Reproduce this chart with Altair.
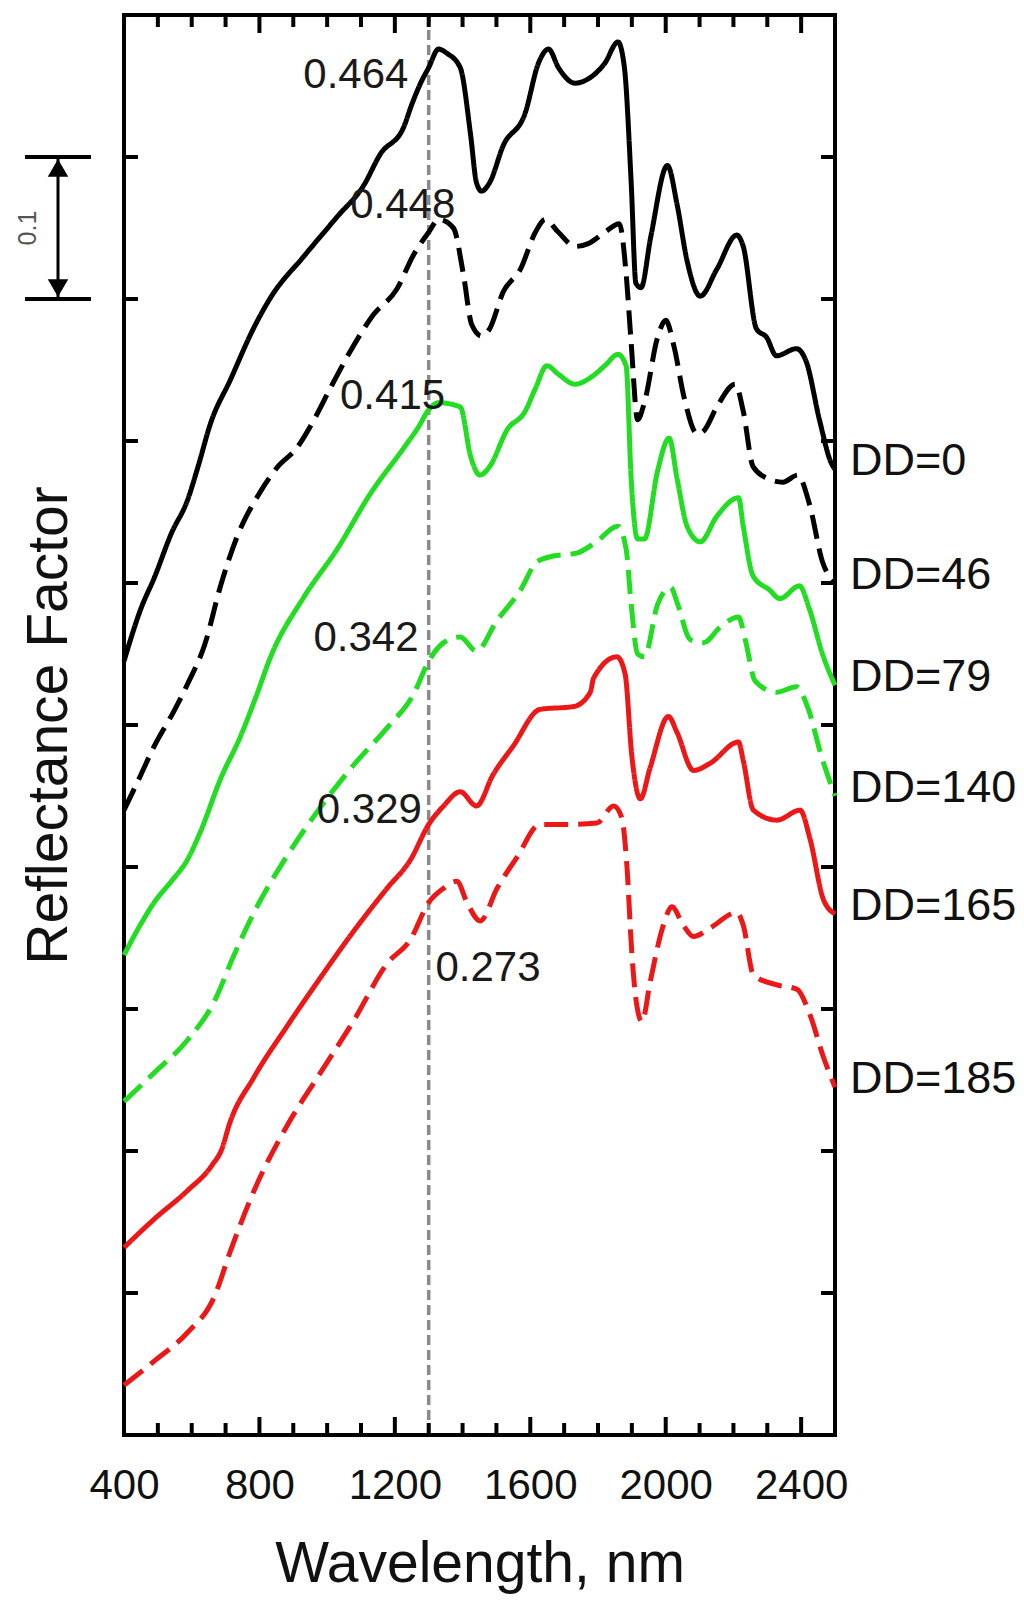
import altair as alt
import pandas as pd

# ---------------- data (stacked display units) ----------------
wl_dd0 = [400, 450, 490, 540, 587, 620, 655, 714, 784, 833, 931, 1030, 1108, 1157, 1226, 1250, 1276,
          1300, 1329, 1354, 1393, 1424, 1441, 1456, 1480, 1520, 1585, 1624, 1654, 1683, 1732, 1771,
          1820, 1859, 1878, 1898, 1912, 1927, 1956, 2005, 2034, 2063, 2102, 2151, 2210, 2229, 2268,
          2298, 2327, 2386, 2415, 2454, 2488, 2500]
r_dd0 = [0.545, 0.582, 0.604, 0.635, 0.658, 0.683, 0.712, 0.743, 0.780, 0.801, 0.830, 0.858, 0.880,
         0.902, 0.921, 0.937, 0.952, 0.963, 0.976, 0.973, 0.963, 0.915, 0.882, 0.876, 0.882, 0.908,
         0.931, 0.966, 0.976, 0.963, 0.952, 0.955, 0.966, 0.981, 0.963, 0.882, 0.811, 0.808, 0.844,
         0.894, 0.866, 0.827, 0.802, 0.821, 0.845, 0.837, 0.779, 0.773, 0.760, 0.765, 0.756, 0.715,
         0.685, 0.680]

wl_dd46 = [400, 450, 489, 548, 590, 639, 684, 733, 802, 851, 910, 959, 1009, 1068, 1137, 1206,
           1255, 1300, 1329, 1373, 1402, 1427, 1456, 1480, 1520, 1571, 1615, 1644, 1683, 1732, 1771,
           1820, 1863, 1883, 1898, 1917, 1937, 1976, 2000, 2025, 2054, 2093, 2112, 2151, 2205, 2229,
           2258, 2307, 2346, 2390, 2424, 2463, 2500]
r_dd46 = [0.440, 0.465, 0.485, 0.510, 0.530, 0.557, 0.597, 0.632, 0.664, 0.681, 0.695, 0.714, 0.737,
          0.763, 0.789, 0.807, 0.831, 0.847, 0.856, 0.850, 0.818, 0.782, 0.774, 0.779, 0.805,
          0.821, 0.847, 0.856, 0.847, 0.837, 0.839, 0.847, 0.853, 0.818, 0.769, 0.715, 0.727, 0.773,
          0.785, 0.766, 0.731, 0.705, 0.707, 0.724, 0.740, 0.721, 0.682, 0.673, 0.671, 0.676, 0.656,
          0.615, 0.600]

wl_dd79 = [400, 450, 489, 540, 587, 626, 685, 744, 790, 833, 931, 1030, 1128, 1226, 1270, 1300, 1329,
           1393, 1424, 1451, 1480, 1532, 1585, 1615, 1649, 1683, 1732, 1780, 1820, 1859, 1883, 1898,
           1917, 1937, 1976, 2010, 2034, 2063, 2102, 2151, 2215, 2229, 2258, 2307, 2337, 2395, 2424,
           2463, 2500]
r_dd79 = [0.338, 0.360, 0.375, 0.390, 0.405, 0.425, 0.462, 0.492, 0.520, 0.548, 0.590, 0.624, 0.663,
          0.695, 0.710, 0.722, 0.727, 0.724, 0.689, 0.676, 0.682, 0.708, 0.721, 0.737, 0.753, 0.747,
          0.740, 0.745, 0.753, 0.761, 0.753, 0.673, 0.631, 0.631, 0.679, 0.702, 0.673, 0.640, 0.629,
          0.647, 0.660, 0.640, 0.605, 0.595, 0.589, 0.598, 0.582, 0.550, 0.528]

wl_dd140 = [400, 489, 587, 666, 725, 784, 882, 980, 1079, 1177, 1256, 1300, 1344, 1393, 1441, 1500,
            1571, 1620, 1668, 1737, 1795, 1859, 1883, 1898, 1917, 1937, 1976, 2015, 2034, 2073, 2112,
            2161, 2215, 2235, 2264, 2327, 2386, 2420, 2460, 2500]
r_dd140 = [0.235, 0.255, 0.278, 0.305, 0.338, 0.368, 0.408, 0.442, 0.472, 0.498, 0.522, 0.545, 0.558,
           0.562, 0.552, 0.573, 0.595, 0.615, 0.619, 0.621, 0.629, 0.640, 0.624, 0.585, 0.550, 0.548,
           0.585, 0.597, 0.586, 0.560, 0.558, 0.569, 0.576, 0.560, 0.531, 0.523, 0.527, 0.512, 0.478,
           0.450]

wl_dd165 = [400, 489, 587, 660, 690, 710, 784, 882, 980, 1079, 1177, 1246, 1300, 1344, 1393, 1441, 1490,
            1549, 1629, 1728, 1777, 1787, 1856, 1880, 1900, 1925, 1954, 2008, 2033, 2082, 2131, 2215,
            2229, 2259, 2328, 2397, 2426, 2466, 2500]
r_dd165 = [0.132, 0.152, 0.172, 0.190, 0.202, 0.218, 0.252, 0.288, 0.322, 0.355, 0.385, 0.405, 0.430,
           0.443, 0.453, 0.443, 0.465, 0.485, 0.511, 0.513, 0.523, 0.533, 0.548, 0.536, 0.478, 0.448,
           0.470, 0.506, 0.495, 0.468, 0.473, 0.488, 0.475, 0.440, 0.433, 0.440, 0.420, 0.377, 0.367]

wl_dd185 = [400, 489, 587, 666, 715, 784, 882, 980, 1079, 1177, 1246, 1300, 1344, 1383, 1413, 1452, 1502,
            1561, 1629, 1718, 1797, 1846, 1870, 1885, 1900, 1915, 1930, 1954, 1993, 2018, 2052, 2082,
            2131, 2210, 2229, 2259, 2328, 2387, 2426, 2466, 2500]
r_dd185 = [0.035, 0.052, 0.072, 0.097, 0.130, 0.172, 0.218, 0.255, 0.292, 0.332, 0.349, 0.375, 0.385,
           0.390, 0.375, 0.362, 0.385, 0.407, 0.430, 0.430, 0.431, 0.443, 0.435, 0.402, 0.339, 0.302,
           0.291, 0.319, 0.359, 0.372, 0.359, 0.351, 0.357, 0.368, 0.359, 0.324, 0.317, 0.314, 0.296,
           0.266, 0.245]

series_names = ["DD=0", "DD=46", "DD=79", "DD=140", "DD=165", "DD=185"]
series_wl = [wl_dd0, wl_dd46, wl_dd79, wl_dd140, wl_dd165, wl_dd185]
series_r = [r_dd0, r_dd46, r_dd79, r_dd140, r_dd165, r_dd185]
series_colors = ["#000000", "#000000", "#22dd22", "#22dd22", "#ec1818", "#ec1818"]
series_dashed = [False, True, False, True, False, True]

ref_wavelength = 1300
annot_text = ["0.464", "0.448", "0.415", "0.342", "0.329", "0.273"]
annot_wl = [1240, 1068, 1038, 1270, 1280, 1320]
annot_v = [0.958, 0.866, 0.732, 0.561, 0.440, 0.329]
annot_align = ["right", "left", "left", "right", "right", "left"]

x_tick_labels = [400, 800, 1200, 1600, 2000, 2400]
x_minor_ticks = [w for w in range(500, 2500, 100) if w % 400 != 0]
x_major_ticks = [800, 1200, 1600, 2000, 2400]
y_ticks = [0.1, 0.2, 0.3, 0.4, 0.5, 0.6, 0.7, 0.8, 0.9]
scalebar_lo, scalebar_hi = 0.8, 0.9

# ---------------- layout ----------------
W, H = 711, 1420
FONT = "Liberation Sans"

rows = []
for name, wls, rs in zip(series_names, series_wl, series_r):
    for w, r in zip(wls, rs):
        rows.append({"wl": w, "v": r, "series": name})
df = pd.DataFrame(rows)

xscale = alt.Scale(domain=[400, 2500], nice=False, zero=False)
yscale = alt.Scale(domain=[0, 1], nice=False, zero=False)
xaxis = alt.Axis(values=x_tick_labels, format="d", ticks=False, domain=False, grid=False,
                 labelFontSize=42, labelFont=FONT, labelColor="#111", labelPadding=30,
                 labelFlush=False, labelOverlap=False, labelBound=False,
                 title="Wavelength, nm", titleFontSize=57, titleFont=FONT,
                 titleFontWeight="normal", titleColor="#111", titlePadding=30)
yaxis = alt.Axis(labels=False, ticks=False, domain=False, grid=False,
                 title="Reflectance Factor", titleFontSize=57, titleFont=FONT,
                 titleFontWeight="normal", titleColor="#111", titlePadding=46)


def X(field="wl"):
    return alt.X(f"{field}:Q", scale=xscale, axis=xaxis, title="Wavelength, nm")


def Y(field="v"):
    return alt.Y(f"{field}:Q", scale=yscale, axis=yaxis, title="Reflectance Factor")


dash_range = [[24, 10] if d else [1, 0] for d in series_dashed]

refline = alt.Chart(pd.DataFrame({"wl": [ref_wavelength]})).mark_rule(
    color="#8a8a8a", strokeWidth=3.5, strokeDash=[10, 5]).encode(x=X())

lines = alt.Chart(df).mark_line(strokeWidth=5, interpolate="monotone").encode(
    x=X(), y=Y(),
    color=alt.Color("series:N", scale=alt.Scale(domain=series_names, range=series_colors), legend=None),
    strokeDash=alt.StrokeDash("series:N", scale=alt.Scale(domain=series_names, range=dash_range), legend=None),
    detail="series:N",
)

ann_df = pd.DataFrame({"wl": annot_wl, "v": annot_v, "label": annot_text, "align": annot_align})
ann_left = alt.Chart(ann_df[ann_df["align"] == "left"]).mark_text(
    align="left", baseline="middle", fontSize=42, font=FONT, color="#1a1a1a").encode(
    x=X(), y=Y(), text="label:N")
ann_right = alt.Chart(ann_df[ann_df["align"] == "right"]).mark_text(
    align="right", baseline="middle", fontSize=42, font=FONT, color="#1a1a1a").encode(
    x=X(), y=Y(), text="label:N")

end_df = pd.DataFrame({"v": [r[-1] for r in series_r], "label": series_names})
end_labels = alt.Chart(end_df).mark_text(
    align="left", baseline="middle", fontSize=45, font=FONT, color="#111", dx=15, dy=-8).encode(
    x=alt.value(W), y=Y(), text="label:N")

# frame ticks (inward)
tick_color = "#000"
xminor_df = pd.DataFrame({"wl": x_minor_ticks})
xmajor_df = pd.DataFrame({"wl": x_major_ticks})
yt_df = pd.DataFrame({"v": y_ticks})
ticks = [
    alt.Chart(xminor_df).mark_rule(color=tick_color, strokeWidth=4).encode(x=X(), y=alt.value(H), y2=alt.value(H - 12)),
    alt.Chart(xmajor_df).mark_rule(color=tick_color, strokeWidth=4).encode(x=X(), y=alt.value(H), y2=alt.value(H - 18)),
    alt.Chart(xminor_df).mark_rule(color=tick_color, strokeWidth=4).encode(x=X(), y=alt.value(0), y2=alt.value(12)),
    alt.Chart(xmajor_df).mark_rule(color=tick_color, strokeWidth=4).encode(x=X(), y=alt.value(0), y2=alt.value(18)),
    alt.Chart(yt_df).mark_rule(color=tick_color, strokeWidth=4).encode(y=Y(), x=alt.value(0), x2=alt.value(14)),
    alt.Chart(yt_df).mark_rule(color=tick_color, strokeWidth=4).encode(y=Y(), x=alt.value(W), x2=alt.value(W - 14)),
]

# scale bar (0.1 units)
sb_caps = alt.Chart(pd.DataFrame({"v": [scalebar_lo, scalebar_hi]})).mark_rule(
    color="#000", strokeWidth=4).encode(y=Y(), x=alt.value(-99), x2=alt.value(-33))
sb_shaft = alt.Chart(pd.DataFrame({"v": [scalebar_lo], "v2": [scalebar_hi]})).mark_rule(
    color="#000", strokeWidth=3).encode(y=Y(), y2="v2:Q", x=alt.value(-66))
sb_up = alt.Chart(pd.DataFrame({"v": [scalebar_hi]})).mark_point(
    shape="triangle-up", filled=True, size=420, color="#000", opacity=1, yOffset=11).encode(
    y=Y(), x=alt.value(-66))
sb_dn = alt.Chart(pd.DataFrame({"v": [scalebar_lo]})).mark_point(
    shape="triangle-down", filled=True, size=420, color="#000", opacity=1, yOffset=-11).encode(
    y=Y(), x=alt.value(-66))
sb_text = alt.Chart(pd.DataFrame({"v": [(scalebar_lo + scalebar_hi) / 2], "label": [f"{scalebar_hi - scalebar_lo:.1f}"]})).mark_text(
    angle=270, fontSize=25, font=FONT, color="#555", baseline="middle", align="center").encode(
    y=Y(), x=alt.value(-96), text="label:N")

chart = alt.layer(
    refline, lines, ann_left, ann_right, end_labels, *ticks, sb_caps, sb_shaft, sb_up, sb_dn, sb_text
).properties(
    width=W, height=H,
    autosize=alt.AutoSizeParams(type="none"),
    padding={"left": 116, "top": 7, "right": 181, "bottom": 160},
    background="white",
).configure_view(stroke="#000", strokeWidth=4)

chart.save("out.html", embed_options={"renderer": "svg", "actions": False})
